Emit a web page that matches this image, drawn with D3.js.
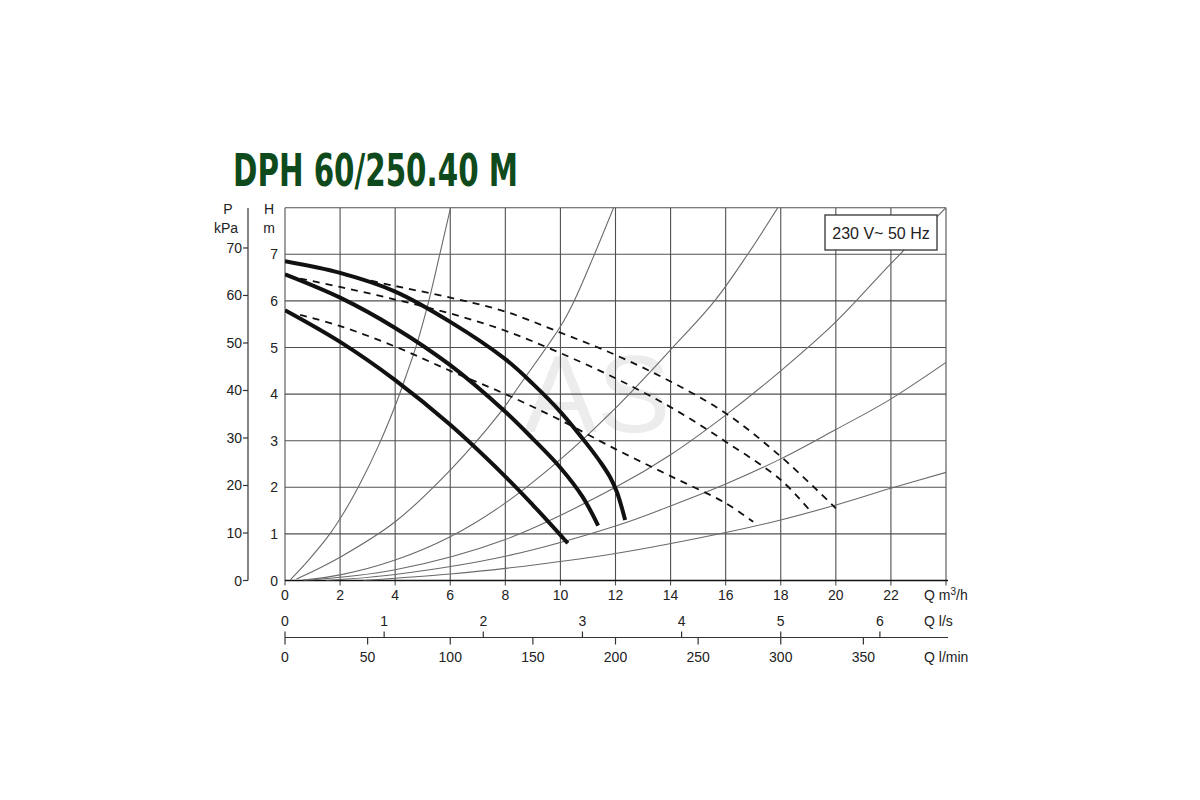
<!DOCTYPE html>
<html>
<head>
<meta charset="utf-8">
<script src="https://cdn.jsdelivr.net/npm/d3@7"></script>
<style>
  body { margin: 0; background: #fff; }
  svg text { font-family: "Liberation Sans", Arial, sans-serif; fill: #222; }
</style>
</head>
<body>
<svg id="chart" width="1200" height="800"></svg>
<script>
// flow ticks (m3/h), head ticks (m), pressure ticks (kPa)
const qTicks = [0, 2, 4, 6, 8, 10, 12, 14, 16, 18, 20, 22]
const hTicks = [0, 1, 2, 3, 4, 5, 6, 7]
const pTicks = [0, 10, 20, 30, 40, 50, 60, 70]
const lsTicks = [0, 1, 2, 3, 4, 5, 6]
const lminTicks = [0, 50, 100, 150, 200, 250, 300, 350]

// pump curves: [Q m3/h, H m]
const speed3 = [[0, 6.85], [2, 6.6], [4, 6.2], [6, 5.55], [8, 4.75], [9, 4.22], [10, 3.62], [11, 2.9], [11.5, 2.5], [11.8, 2.22], [12.05, 1.9], [12.35, 1.3]]
const speed2 = [[0, 6.57], [2, 6.07], [4, 5.42], [6, 4.62], [8, 3.62], [9, 3.04], [10, 2.42], [10.8, 1.8], [11.37, 1.18]]
const speed1 = [[0, 5.8], [2, 5.12], [4, 4.3], [6, 3.34], [8, 2.23], [9, 1.62], [10.27, 0.8]]

// dashed curves
const dash3 = [[2.2, 6.55], [4, 6.32], [6, 6.07], [8, 5.77], [10, 5.32], [12, 4.84], [14, 4.27], [16, 3.59], [18, 2.66], [20, 1.55]]
const dash2 = [[0.55, 6.48], [2, 6.3], [4, 6.03], [6, 5.73], [8, 5.36], [10, 4.88], [12, 4.34], [14, 3.72], [16, 2.98], [18, 2.16], [19.06, 1.5]]
const dash1 = [[0.55, 5.7], [2, 5.46], [4, 5.02], [6, 4.5], [8, 4.0], [10, 3.44], [12, 2.82], [14, 2.24], [16, 1.66], [17, 1.26]]

// system curves (thin grey)
const sys1 = [[0.2, 0.02], [0.8, 0.4], [1.63, 1.0], [2.1, 1.42], [2.7, 2.05], [3.4, 2.9], [4, 3.75], [4.4, 4.4], [4.8, 5.1], [5.2, 5.95], [5.6, 6.95], [6.05, 8.1]]
const sys2 = [[0.42, 0.03], [2, 0.5], [4, 1.26], [6, 2.37], [7.8, 3.59], [8.53, 4.2], [10, 5.45], [10.5, 6.0], [11.2, 6.95], [12, 8.1]]
const sys3 = [[0.65, 0.01], [2, 0.12], [4, 0.44], [6, 0.94], [7.8, 1.58], [10, 2.6], [12, 3.7], [14, 4.95], [15.6, 6.0], [16.8, 7.0], [18, 8.1]]
const sys4 = [[0.7, 0.0], [4, 0.23], [8, 0.88], [12, 2.0], [14, 2.7], [16, 3.55], [18, 4.5], [20, 5.55], [22, 6.8], [24, 8.0]]
const sys5 = [[1.5, 0.0], [4, 0.13], [8, 0.52], [12, 1.17], [14, 1.6], [16, 2.07], [18, 2.61], [20, 3.24], [21.9, 3.86], [24, 4.68]]
const sys6 = [[2.85, 0.0], [6, 0.14], [8, 0.26], [12, 0.58], [16, 1.03], [18, 1.3], [20, 1.62], [22, 1.98], [24, 2.32]]

const svg = d3.select("#chart")

const x = d3.scaleLinear().domain([0, 24]).range([285, 946])
const y = d3.scaleLinear().domain([0, 8]).range([580.5, 207.7])
const yP = d3.scaleLinear().domain([0, 8 * 9.81]).range([580.5, 207.7])
const xLs = d3.scaleLinear().domain([0, 24 / 3.6]).range([285, 946])
const xLmin = d3.scaleLinear().domain([0, 400]).range([285, 946])

// title
svg.append("text")
    .attr("x", 233).attr("y", 186)
    .attr("textLength", 285).attr("lengthAdjust", "spacingAndGlyphs")
    .style("font-family", "'Liberation Sans Narrow', 'DejaVu Sans Condensed', sans-serif")
    .style("font-weight", "bold").style("font-size", "45px")
    .style("fill", "#0f4a1c")
    .text("DPH 60/250.40 M")

// watermark sits under the grid
svg.append("text")
    .attr("x", 597).attr("y", 432).attr("text-anchor", "middle")
    .style("font-size", "110px").style("fill", "#ececec")
    .text("AS")

const clip = svg.append("clipPath").attr("id", "plot")
clip.append("rect").attr("x", 285).attr("y", 207.7).attr("width", 661).attr("height", 372.8)

// grid
const grid = svg.append("g").attr("stroke", "#505050").attr("stroke-width", 1.1)
grid.selectAll(".v").data(d3.range(0, 25, 2)).join("line")
    .attr("x1", d => x(d)).attr("x2", d => x(d))
    .attr("y1", y(8)).attr("y2", y(0) + 5)
grid.selectAll(".h").data(d3.range(1, 9)).join("line")
    .attr("x1", x(0)).attr("x2", x(24))
    .attr("y1", d => y(d)).attr("y2", d => y(d))

svg.append("line").attr("x1", x(0)).attr("x2", x(24) + 2)
    .attr("y1", y(0)).attr("y2", y(0))
    .attr("stroke", "#111").attr("stroke-width", 1.4)

// curves
const line = d3.line().x(d => x(d[0])).y(d => y(d[1])).curve(d3.curveCatmullRom.alpha(0.5))
const curves = svg.append("g").attr("clip-path", "url(#plot)").attr("fill", "none")

curves.selectAll(".sys").data([sys1, sys2, sys3, sys4, sys5, sys6]).join("path")
    .attr("d", line).attr("stroke", "#6a6a6a").attr("stroke-width", 1.1)

curves.selectAll(".dash").data([dash1, dash2, dash3]).join("path")
    .attr("d", line).attr("stroke", "#111").attr("stroke-width", 1.8)
    .attr("stroke-dasharray", "7,6")

curves.selectAll(".pump").data([speed1, speed2, speed3]).join("path")
    .attr("d", line).attr("stroke", "#111").attr("stroke-width", 4)

// H axis labels
svg.selectAll(".hl").data(hTicks).join("text")
    .attr("x", 278).attr("y", d => y(d) + 5).attr("text-anchor", "end")
    .style("font-size", "14px").text(d => d)
svg.append("text").attr("x", 269).attr("y", 214).attr("text-anchor", "middle").style("font-size", "14px").text("H")
svg.append("text").attr("x", 269).attr("y", 233).attr("text-anchor", "middle").style("font-size", "14px").text("m")

// P axis
const pAxis = svg.append("g")
pAxis.append("line").attr("x1", 248).attr("x2", 248).attr("y1", 208).attr("y2", y(0))
    .attr("stroke", "#333").attr("stroke-width", 1.2)
pAxis.selectAll(".pt").data(pTicks).join("line")
    .attr("x1", 243).attr("x2", 248).attr("y1", d => yP(d)).attr("y2", d => yP(d))
    .attr("stroke", "#333").attr("stroke-width", 1.2)
pAxis.selectAll(".pl").data(pTicks).join("text")
    .attr("x", 242).attr("y", d => yP(d) + 5).attr("text-anchor", "end")
    .style("font-size", "14px").text(d => d)
svg.append("text").attr("x", 228).attr("y", 214).attr("text-anchor", "middle").style("font-size", "14px").text("P")
svg.append("text").attr("x", 226).attr("y", 233).attr("text-anchor", "middle").style("font-size", "14px").text("kPa")

// Q m3/h labels
svg.selectAll(".ql").data(qTicks).join("text")
    .attr("x", d => x(d)).attr("y", 600).attr("text-anchor", "middle")
    .style("font-size", "14px").text(d => d)
const qUnit = svg.append("text").attr("x", 924).attr("y", 600).style("font-size", "14px")
qUnit.append("tspan").text("Q m")
qUnit.append("tspan").attr("dy", -5).style("font-size", "10px").text("3")
qUnit.append("tspan").attr("dy", 5).text("/h")

// lower flow scales share one line
const lowY = 637.5
svg.append("line").attr("x1", x(0)).attr("x2", x(24) + 2).attr("y1", lowY).attr("y2", lowY)
    .attr("stroke", "#333").attr("stroke-width", 1.2)
svg.selectAll(".lst").data(lsTicks).join("line")
    .attr("x1", d => xLs(d)).attr("x2", d => xLs(d)).attr("y1", lowY - 6).attr("y2", lowY)
    .attr("stroke", "#333").attr("stroke-width", 1.2)
svg.selectAll(".lsl").data(lsTicks).join("text")
    .attr("x", d => xLs(d)).attr("y", 626).attr("text-anchor", "middle")
    .style("font-size", "14px").text(d => d)
svg.append("text").attr("x", 924).attr("y", 626).style("font-size", "14px").text("Q l/s")

svg.selectAll(".lmt").data(lminTicks).join("line")
    .attr("x1", d => xLmin(d)).attr("x2", d => xLmin(d)).attr("y1", lowY).attr("y2", lowY + 7)
    .attr("stroke", "#333").attr("stroke-width", 1.2)
svg.selectAll(".lml").data(lminTicks).join("text")
    .attr("x", d => xLmin(d)).attr("y", 662).attr("text-anchor", "middle")
    .style("font-size", "14px").text(d => d)
svg.append("text").attr("x", 924).attr("y", 662).style("font-size", "14px").text("Q l/min")

// supply note
svg.append("rect").attr("x", 825).attr("y", 215).attr("width", 112).attr("height", 35)
    .attr("fill", "#fff").attr("stroke", "#333").attr("stroke-width", 1.3)
svg.append("text").attr("x", 881).attr("y", 239).attr("text-anchor", "middle")
    .style("font-size", "16px").text("230 V~ 50 Hz")
</script>
</body>
</html>
